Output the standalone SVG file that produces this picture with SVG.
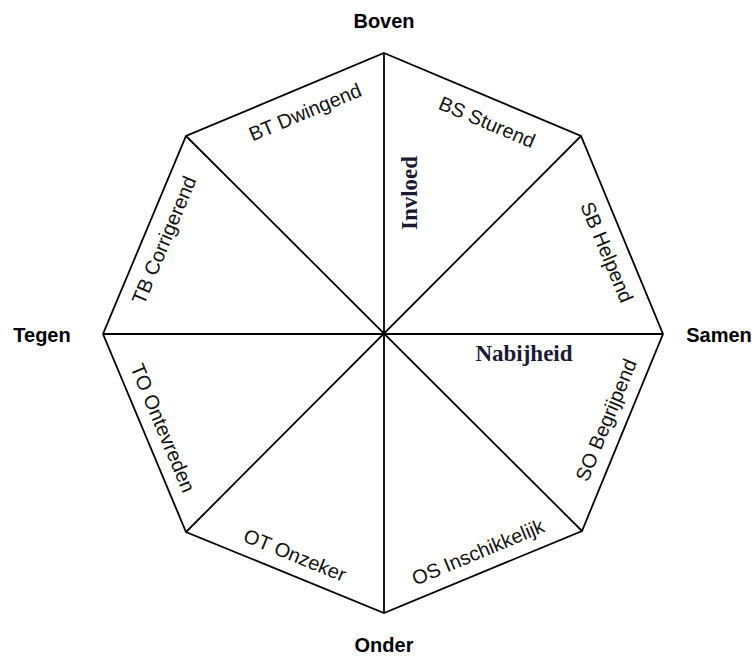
<svg xmlns="http://www.w3.org/2000/svg" width="755" height="656" viewBox="0 0 755 656">
<style>
.edge{fill:none;stroke:#000;stroke-width:1.8;stroke-linejoin:miter}
.seg{font-family:"Liberation Sans",Arial,sans-serif;font-size:20px;fill:#111;text-anchor:middle}
.axis{font-family:"Liberation Sans",Arial,sans-serif;font-size:20px;font-weight:bold;fill:#000;text-anchor:middle}
.dim{font-family:"Liberation Serif","Times New Roman",serif;font-size:23px;font-weight:bold;fill:#1a1a33;text-anchor:middle}
</style>
<rect width="755" height="656" fill="#fff"/>
<g id="connectors">
<polygon class="edge" points="384,53 581,136 663,334 582,531 384,613 186,532 103,334 186,136"/>
<line class="edge" x1="384" y1="53" x2="384" y2="613"/>
<line class="edge" x1="103" y1="334" x2="663" y2="334"/>
<line class="edge" x1="186" y1="136" x2="582" y2="531"/>
<line class="edge" x1="581" y1="136" x2="186" y2="532"/>
</g>
<g id="BT"><text class="seg" transform="translate(305,112) rotate(-22.7)" y="7">BT Dwingend</text></g>
<g id="BS"><text class="seg" transform="translate(487,122) rotate(22.9)" y="7">BS Sturend</text></g>
<g id="SB"><text class="seg" transform="translate(607,252) rotate(67.3)" y="7">SB Helpend</text></g>
<g id="SO"><text class="seg" transform="translate(606,420) rotate(-67.6)" y="7">SO Begrijpend</text></g>
<g id="OS"><text class="seg" transform="translate(478,552) rotate(-22.7)" y="7">OS Inschikkelijk</text></g>
<g id="OT"><text class="seg" transform="translate(295,555) rotate(22.3)" y="7">OT Onzeker</text></g>
<g id="TO"><text class="seg" transform="translate(163,428) rotate(67.3)" y="7">TO Ontevreden</text></g>
<g id="TB"><text class="seg" transform="translate(164,240) rotate(-67.3)" y="7">TB Corrigerend</text></g>
<g id="Boven"><text class="axis" x="384" y="28">Boven</text></g>
<g id="Tegen"><text class="axis" x="42" y="342">Tegen</text></g>
<g id="Samen"><text class="axis" x="719" y="342">Samen</text></g>
<g id="Onder"><text class="axis" x="384" y="652">Onder</text></g>
<g id="Invloed"><text class="dim" transform="translate(417,193) rotate(-90)">Invloed</text></g>
<g id="Nabijheid"><text class="dim" x="524" y="361">Nabijheid</text></g>
</svg>
